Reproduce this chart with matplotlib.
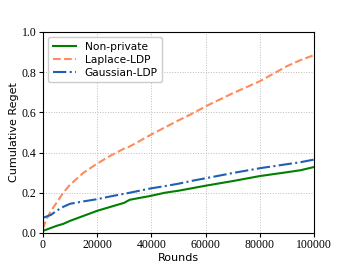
import numpy as np
import matplotlib
matplotlib.use('Agg')
import matplotlib.pyplot as plt

# rounds sampled along the x axis
rounds = [0, 1000, 3000, 5000, 7500, 10000, 15000, 20000, 25000, 30000, 32000,
          40000, 45000, 50000, 56000, 60000, 70000, 80000, 90000, 95000, 100000]

non_private = [0.01, 0.015, 0.025, 0.035, 0.045, 0.06, 0.085, 0.11, 0.13, 0.15, 0.165,
               0.185, 0.2, 0.21, 0.225, 0.235, 0.258, 0.283, 0.302, 0.312, 0.328]
laplace_ldp = [0.02, 0.06, 0.11, 0.15, 0.2, 0.24, 0.3, 0.345, 0.385, 0.42, 0.43,
               0.49, 0.525, 0.56, 0.6, 0.63, 0.695, 0.755, 0.83, 0.86, 0.885]
gaussian_ldp = [0.075, 0.08, 0.09, 0.11, 0.13, 0.145, 0.157, 0.168, 0.182, 0.195, 0.2,
                0.222, 0.233, 0.245, 0.262, 0.272, 0.298, 0.322, 0.342, 0.352, 0.365]

fig = plt.figure(figsize=(3.49, 2.62), dpi=100)
ax = fig.add_axes([0.123, 0.111, 0.777, 0.767])

ax.plot(rounds, non_private, color='green', linestyle='-', lw=1.5, label='Non-private')
ax.plot(rounds, laplace_ldp, color='#ff8a5c', linestyle='--', lw=1.5, label='Laplace-LDP')
ax.plot(rounds, gaussian_ldp, color='#1f5fb4', linestyle='-.', lw=1.5, label='Gaussian-LDP')

ax.set_xlim(0, 100000)
ax.set_ylim(0, 1.0)
ax.set_xticks([0, 20000, 40000, 60000, 80000, 100000])
ax.set_yticks([0.0, 0.2, 0.4, 0.6, 0.8, 1.0])
for lab in ax.get_xticklabels() + ax.get_yticklabels():
    lab.set_family('Liberation Serif')
    lab.set_fontsize(8.5)
ax.tick_params(length=3, pad=1.5)
ax.grid(True, linestyle=':', color='#bbbbbb', lw=0.7)
ax.set_xlabel('Rounds', fontsize=8, labelpad=1)
ax.set_ylabel('Cumulative Reget', fontsize=8, labelpad=2)
ax.legend(loc='upper left', fontsize=7.7, handlelength=2.2, borderpad=0.4,
          labelspacing=0.3, framealpha=1)

fig.savefig('out.png', dpi=100)
